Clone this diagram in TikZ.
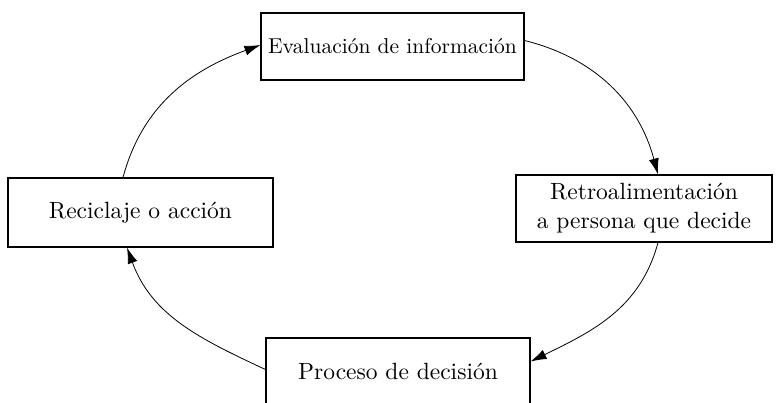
\documentclass[tikz,border=0pt]{standalone}
\usepackage{fontspec}
\setmainfont{lmroman10-regular}[Extension=.otf]
\usetikzlibrary{arrows.meta,calc}
\begin{document}
\begin{tikzpicture}[x=1pt,y=1pt,
  box/.style={draw, line width=1.1pt, inner sep=0pt, align=center, font=\fontsize{23.5}{29}\selectfont},
  conn/.style={line width=0.8pt, -{Latex[length=16pt,width=10pt]}}]
\useasboundingbox (0,0) rectangle (776,402);
\node[box, minimum width=263pt, minimum height=67pt, font=\fontsize{21.5}{29}\selectfont] (T) at (392.5,355.5) {Evaluación de información};
\node[box, minimum width=256pt, minimum height=67pt] (R) at (644,193.5) {Retroalimentación\\a persona que decide};
\node[box, minimum width=265pt, minimum height=69pt] (L) at (140.5,189.5) {Reciclaje o acción};
\node[box, minimum width=264pt, minimum height=67pt] (B) at (398,30.5) {Proceso de decisión};
\draw[conn] ([xshift=-17.5pt]L.north) to[out=75,in=200] ([yshift=1.5pt]T.west);
\draw[conn] ([yshift=6pt]T.east) to[out=-14,in=105] ([xshift=14pt]R.north);
\draw[conn] ([xshift=14pt]R.south) to[out=-105,in=26] ([yshift=10pt]B.east);
\draw[conn] ([yshift=2pt]B.west) to[out=155,in=-70] ([xshift=-13.5pt]L.south);
\end{tikzpicture}
\end{document}
